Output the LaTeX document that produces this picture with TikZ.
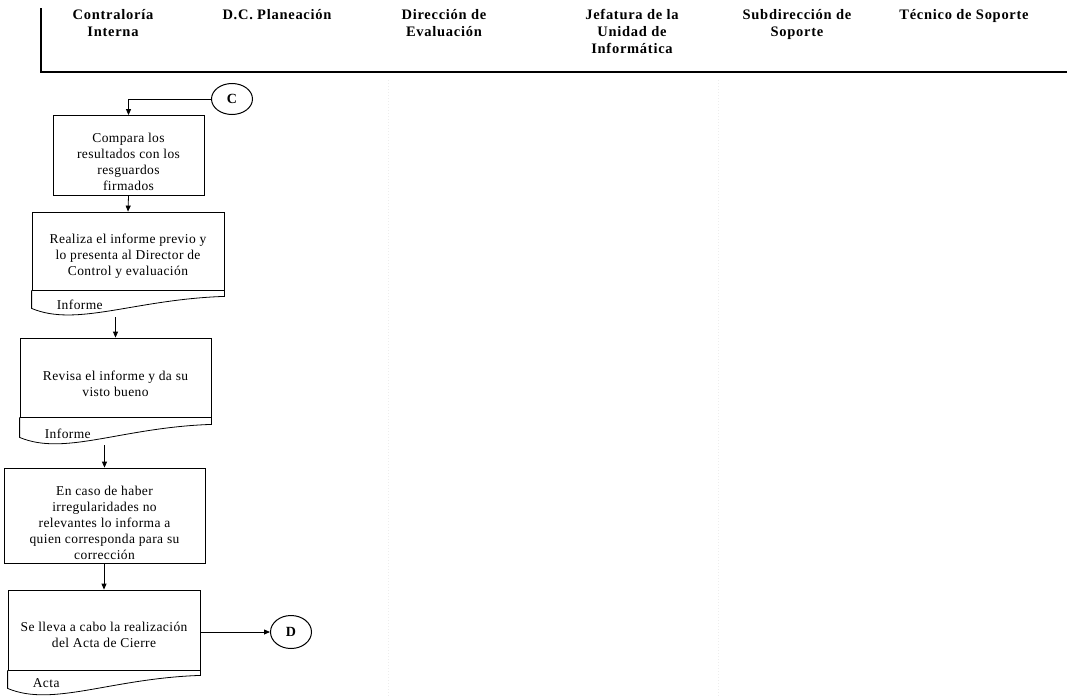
\documentclass[tikz,border=0pt]{standalone}
\usepackage{fontspec}
\setmainfont{Liberation Serif}
\usetikzlibrary{arrows.meta,calc,positioning,shapes.geometric}

\tikzset{
  head/.style={font=\fontsize{14.5}{17}\selectfont\bfseries\addfontfeature{LetterSpace=5},
    align=center, anchor=north, inner sep=0pt},
  proc/.style={draw=black, line width=0.8pt},
  ptxt/.style={align=center, inner sep=0pt,
    font=\fontsize{13.5}{16}\selectfont\addfontfeature{LetterSpace=3}},
  doclbl/.style={font=\fontsize{13.5}{16}\selectfont\addfontfeature{LetterSpace=3},
    anchor=west, inner sep=0pt},
  conn/.style={-{Triangle[length=6pt,width=5pt]}, line width=0.8pt},
  onpage/.style={draw, ellipse, line width=1pt, inner sep=0pt, minimum width=41pt,
    minimum height=31pt, font=\fontsize{14}{16}\selectfont\bfseries},
  lane/.style={black!7, dotted, line width=1pt}
}

\begin{document}
\begin{tikzpicture}[x=1pt,y=-1pt]
\useasboundingbox (0,0) rectangle (1067,696);

% header of the lanes
\draw[line width=1.3pt] (41,8) -- (41,72) -- (1067,72);
\node[head] (hCI) at (113,9) {Contraloría\\Interna};
\node[head] (hDC) at (277,9) {D.C. Planeación};
\node[head] (hDE) at (444,9) {Dirección de\\Evaluación};
\node[head] (hJU) at (632,9) {Jefatura de la\\Unidad de\\Informática};
\node[head] (hSS) at (797,9) {Subdirección de\\Soporte};
\node[head] (hTS) at (964,9) {Técnico de Soporte};
\draw[lane] (388,80) -- (388,696);
\draw[lane] (718,80) -- (718,696);

% steps
\node[onpage] (cC) at (232,99) {C};
\node[proc,minimum width=151pt,minimum height=80pt] (b1) at (128.5,155.5) {};
\node[ptxt] (b1t) at ($(b1)+(0,6)$) {Compara los\\resultados con los\\resguardos\\firmados};
\node[proc,minimum width=192pt,minimum height=78pt] (b2) at (128,251) {};
\node[ptxt] (b2t) at ($(b2)+(0,5)$) {Realiza el informe previo y\\lo presenta al Director de\\Control y evaluación};
\node[proc,minimum width=191pt,minimum height=79pt] (b3) at (115.5,377.5) {};
\node[ptxt] (b3t) at ($(b3)+(0,6)$) {Revisa el informe y da su\\visto bueno};
\node[proc,minimum width=201pt,minimum height=95pt] (b4) at (104.5,515.5) {};
\node[ptxt] (b4t) at ($(b4)+(0,7)$) {En caso de haber\\irregularidades no\\relevantes lo informa a\\quien corresponda para su\\corrección};
\node[proc,minimum width=192pt,minimum height=80pt] (b5) at (104,630) {};
\node[ptxt] (b5t) at ($(b5)+(0,5)$) {Se lleva a cabo la realización\\del Acta de Cierre};
\node[onpage,minimum height=33pt] (cD) at (291,632) {D};

% document tabs
\draw[line width=0.8pt] (b2.south west) -- ++(0,18) .. controls +(45,19) and +(-90,3) .. ($(b2.south east)+(0,6)$) -- (b2.south east);
\node[doclbl] (d2) at ($(b2.south west)+(25,14)$) {Informe};
\draw[line width=0.8pt] (b3.south west) -- ++(0,20) .. controls +(45,19) and +(-90,3) .. ($(b3.south east)+(0,7)$) -- (b3.south east);
\node[doclbl] (d3) at ($(b3.south west)+(25,16)$) {Informe};
\draw[line width=0.8pt] (b5.south west) -- ++(0,18) .. controls +(45,19) and +(-90,3) .. ($(b5.south east)+(0,5)$) -- (b5.south east);
\node[doclbl] (d5) at ($(b5.south west)+(25,13)$) {Acta};

% flow
\coordinate (t2) at ($(b2.south)+(0,27)$);
\coordinate (t3) at ($(b3.south)+(0,28)$);
\draw[conn] (cC.west) -| (b1.north);
\draw[conn] (b1.south) -- (b2.north);
\draw[conn] (b3.north |- t2) -- (b3.north);
\draw[conn] (b4.north |- t3) -- (b4.north);
\draw[conn] (b5.north |- b4.south) -- (b5.north);
\draw[conn] (b5.east |- cD) -- (cD.west);
\end{tikzpicture}
\end{document}
